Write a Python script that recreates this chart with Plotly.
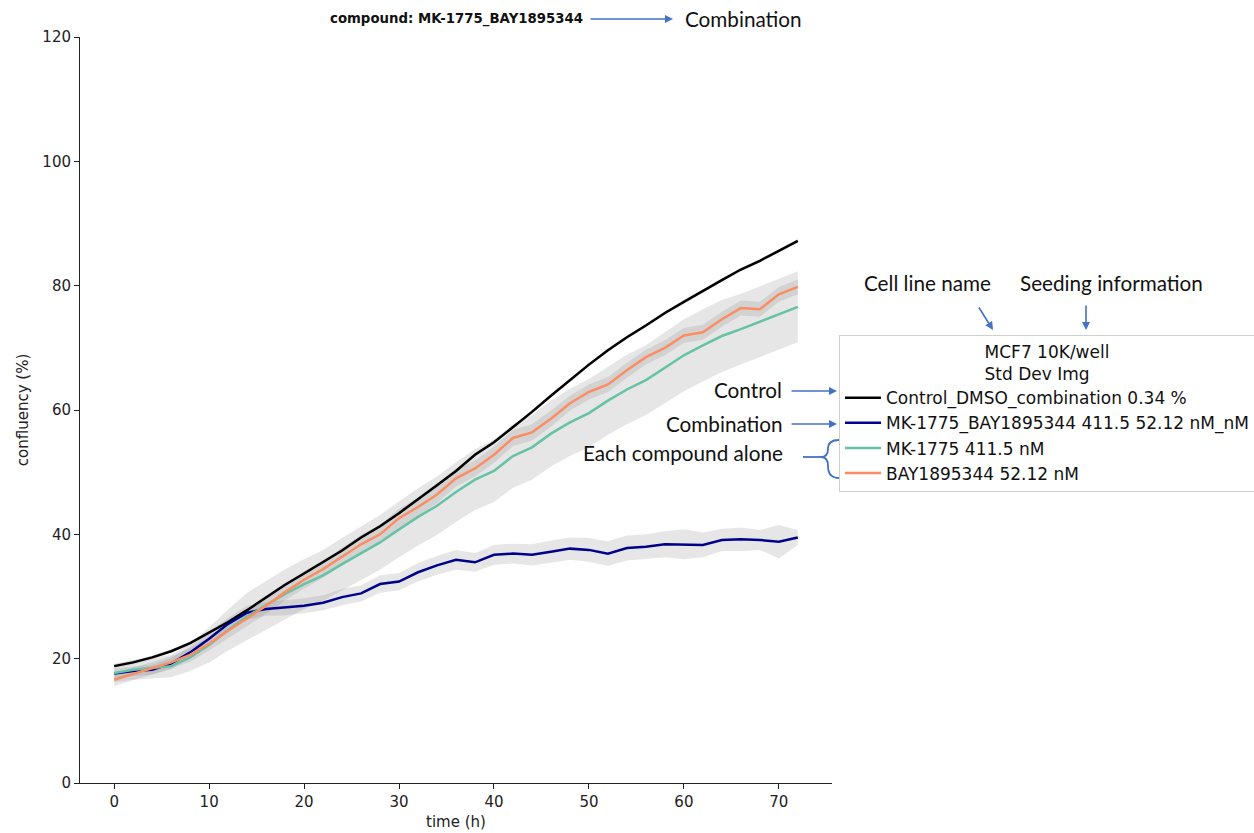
import plotly.graph_objects as go

# ---------------- data ----------------
time_h = [0, 2, 4, 6, 8, 10, 12, 14, 16, 18, 20, 22, 24, 26, 28, 30, 32, 34, 36,
          38, 40, 42, 44, 46, 48, 50, 52, 54, 56, 58, 60, 62, 64, 66, 68, 70, 72]

control = [18.8, 19.4, 20.2, 21.2, 22.5, 24.2, 25.9, 27.8, 29.8, 31.9, 33.7, 35.5, 37.4,
           39.5, 41.3, 43.4, 45.6, 47.9, 50.2, 52.8, 54.8, 57.2, 59.7, 62.3, 64.8, 67.3,
           69.6, 71.7, 73.6, 75.6, 77.4, 79.2, 80.9, 82.6, 84.0, 85.6, 87.2]
control_sd = [0.3, 0.3, 0.3, 0.3, 0.3, 0.3, 0.3, 0.3, 0.3, 0.3, 0.3, 0.3, 0.3, 0.3, 0.3,
              0.3, 0.3, 0.3, 0.3, 0.3, 0.3, 0.3, 0.3, 0.3, 0.3, 0.3, 0.3, 0.3, 0.3, 0.3,
              0.3, 0.3, 0.3, 0.3, 0.3, 0.3, 0.3]

combo = [17.6, 18.0, 18.2, 19.2, 21.0, 23.2, 25.6, 27.4, 28.0, 28.2, 28.5, 29.0, 29.9,
         30.5, 32.0, 32.4, 33.9, 35.0, 35.9, 35.5, 36.7, 36.9, 36.7, 37.2, 37.7, 37.5,
         36.9, 37.8, 38.0, 38.4, 38.4, 38.3, 39.1, 39.2, 39.1, 38.8, 39.5]
combo_sd = [0.8, 0.8, 0.8, 0.9, 0.9, 1.0, 1.0, 1.1, 1.1, 1.2, 1.2, 1.2, 1.3, 1.3, 1.4,
            1.4, 1.5, 1.5, 1.6, 1.5, 1.6, 1.6, 1.7, 1.8, 1.8, 1.9, 2.0, 2.0, 2.0, 2.1,
            2.4, 2.0, 1.8, 1.9, 1.6, 2.7, 1.2]

mk1775 = [17.7, 18.2, 18.5, 18.8, 20.2, 22.2, 24.6, 26.8, 28.6, 30.4, 32.0, 33.4, 35.2,
          37.0, 38.7, 40.8, 42.8, 44.6, 46.8, 48.8, 50.2, 52.6, 54.0, 56.2, 58.0, 59.5,
          61.5, 63.3, 64.8, 66.8, 68.8, 70.4, 71.9, 73.0, 74.2, 75.3, 76.6]
mk1775_sd = [1.5, 1.6, 1.7, 1.8, 2.2, 2.8, 3.3, 3.8, 3.9, 4.0, 4.0, 4.1, 4.2, 4.3, 4.4,
             4.5, 4.6, 4.7, 4.8, 4.9, 5.0, 5.1, 5.2, 5.3, 5.4, 5.5, 5.5, 5.6, 5.6, 5.7,
             5.8, 5.8, 5.8, 5.7, 5.7, 5.7, 5.7]

bay = [16.6, 17.5, 18.4, 19.4, 20.6, 22.4, 24.5, 26.5, 28.5, 30.7, 32.7, 34.4, 36.4,
       38.4, 40.0, 42.6, 44.4, 46.4, 49.0, 50.6, 52.8, 55.5, 56.4, 58.6, 61.1, 62.9,
       64.1, 66.4, 68.5, 70.0, 72.0, 72.5, 74.6, 76.4, 76.2, 78.6, 79.8]
bay_sd = [1.0, 1.0, 1.0, 1.0, 1.1, 1.1, 1.2, 1.2, 1.3, 1.3, 1.4, 1.4, 1.5, 1.5, 1.5,
          1.5, 1.4, 1.4, 1.3, 1.3, 1.3, 1.3, 1.3, 1.3, 1.2, 1.2, 1.2, 1.2, 1.2, 1.2,
          1.2, 1.2, 1.2, 1.2, 1.2, 1.2, 1.2]

series_names = ["Control_DMSO_combination 0.34 %",
                "MK-1775_BAY1895344 411.5 52.12 nM_nM",
                "MK-1775 411.5 nM",
                "BAY1895344 52.12 nM"]
series_vals = [control, combo, mk1775, bay]
series_sd = [control_sd, combo_sd, mk1775_sd, bay_sd]
series_colors = ["#000000", "#00008b", "#66c2a5", "#fc8d62"]

title_text = "compound: MK-1775_BAY1895344"
legend_title = "MCF7 10K/well<br>Std Dev Img"

# ---------------- layout geometry (pixels) ----------------
W, H = 1254, 833
L, R, T, B = 80, 832, 37, 783


def px(xp):
    return (xp - L) / (R - L)


def py(yp):
    return (B - yp) / (B - T)


fig = go.Figure()

# std bands
for vals, sd in zip(series_vals, series_sd):
    lo = [v - s for v, s in zip(vals, sd)]
    hi = [v + s for v, s in zip(vals, sd)]
    fig.add_trace(go.Scatter(x=time_h, y=lo, mode="lines", line=dict(width=0),
                             showlegend=False, hoverinfo="skip"))
    fig.add_trace(go.Scatter(x=time_h, y=hi, mode="lines", line=dict(width=0),
                             fill="tonexty", fillcolor="rgba(128,128,128,0.2)",
                             showlegend=False, hoverinfo="skip"))

# mean lines
for i, (name, vals, col) in enumerate(zip(series_names, series_vals, series_colors)):
    fig.add_trace(go.Scatter(x=time_h, y=vals, mode="lines", name=name,
                             line=dict(color=col, width=2.5),
                             legendgroup=f"g{i}"))

axis_font = dict(family="DejaVu Sans", size=15, color="#222")
fig.update_xaxes(range=[-3.6, 75.6], tickvals=[0, 10, 20, 30, 40, 50, 60, 70],
                 showline=True, linecolor="#222", linewidth=1, mirror=False,
                 ticks="outside", ticklen=5, tickcolor="#222", showgrid=False,
                 zeroline=False, tickfont=axis_font,
                 title=dict(text="time (h)", font=axis_font, standoff=6))
fig.update_yaxes(range=[0, 120], tickvals=[0, 20, 40, 60, 80, 100, 120],
                 showline=True, linecolor="#222", linewidth=1, mirror=False,
                 ticks="outside", ticklen=5, tickcolor="#222", showgrid=False,
                 zeroline=False, tickfont=axis_font,
                 title=dict(text="confluency (%)", font=axis_font, standoff=10))

blue = "#4472c4"
note_font = dict(family="Lato", size=20.7, color="#111")
annotations = [
    dict(x=0.5, y=py(19), xref="paper", yref="paper", text="<b>" + title_text + "</b>",
         showarrow=False, font=dict(family="DejaVu Sans", size=13.3, color="#111"),
         xanchor="center", yanchor="middle"),
    # top arrow -> Combination
    dict(x=px(673), y=py(19), xref="paper", yref="paper", text="", showarrow=True,
         ax=-84, ay=0, arrowhead=2, arrowsize=1, arrowwidth=1.6, arrowcolor=blue),
    dict(x=px(683), y=py(19), xref="paper", yref="paper", text="Combination",
         showarrow=False, font=note_font, xanchor="left", yanchor="middle"),
    # Cell line name / Seeding info
    dict(x=px(927), y=py(283), xref="paper", yref="paper", text="Cell line name",
         showarrow=False, font=note_font, xanchor="center", yanchor="middle"),
    dict(x=px(1111), y=py(283), xref="paper", yref="paper", text="Seeding information",
         showarrow=False, font=note_font, xanchor="center", yanchor="middle"),
    dict(x=px(993), y=py(330), xref="paper", yref="paper", text="", showarrow=True,
         ax=-15, ay=-24, arrowhead=2, arrowsize=1, arrowwidth=1.6, arrowcolor=blue),
    dict(x=px(1086), y=py(330), xref="paper", yref="paper", text="", showarrow=True,
         ax=0, ay=-26, arrowhead=2, arrowsize=1, arrowwidth=1.6, arrowcolor=blue),
    # Control / Combination / Each compound alone
    dict(x=px(784), y=py(390), xref="paper", yref="paper", text="Control",
         showarrow=False, font=note_font, xanchor="right", yanchor="middle"),
    dict(x=px(837), y=py(391), xref="paper", yref="paper", text="", showarrow=True,
         ax=-47, ay=0, arrowhead=2, arrowsize=1, arrowwidth=1.6, arrowcolor=blue),
    dict(x=px(785), y=py(424), xref="paper", yref="paper", text="Combination",
         showarrow=False, font=note_font, xanchor="right", yanchor="middle"),
    dict(x=px(837), y=py(424), xref="paper", yref="paper", text="", showarrow=True,
         ax=-47, ay=0, arrowhead=2, arrowsize=1, arrowwidth=1.6, arrowcolor=blue),
    dict(x=px(785), y=py(453), xref="paper", yref="paper", text="Each compound alone",
         showarrow=False, font=note_font, xanchor="right", yanchor="middle"),
]


def P(xp, yp):
    return f"{px(xp):.5f},{py(yp):.5f}"


brace = ("M " + P(839, 440) + " Q " + P(828, 440) + " " + P(828, 449) +
         " Q " + P(828, 457) + " " + P(821, 457) +
         " Q " + P(828, 457) + " " + P(828, 466) +
         " Q " + P(828, 478) + " " + P(839, 478))
shapes = [
    dict(type="path", path=brace, xref="paper", yref="paper",
         line=dict(color=blue, width=1.8)),
    dict(type="line", x0=px(803), x1=px(821), y0=py(457), y1=py(457),
         xref="paper", yref="paper", line=dict(color=blue, width=1.8)),
]

fig.update_layout(
    width=W, height=H,
    margin=dict(l=L, r=W - R, t=T, b=H - B, autoexpand=False),
    paper_bgcolor="white", plot_bgcolor="white",
    showlegend=True,
    legend=dict(x=px(839), y=py(335), xanchor="left", yanchor="top",
                xref="paper", yref="paper",
                bgcolor="white", bordercolor="#d0d0d0", borderwidth=1,
                font=dict(family="DejaVu Sans", size=17, color="#111"),
                title=dict(text=legend_title, side="top center",
                           font=dict(family="DejaVu Sans", size=17, color="#111")),
                tracegroupgap=0, traceorder="grouped", itemwidth=36),
    annotations=annotations,
    shapes=shapes,
)

fig.write_html("out.html")
